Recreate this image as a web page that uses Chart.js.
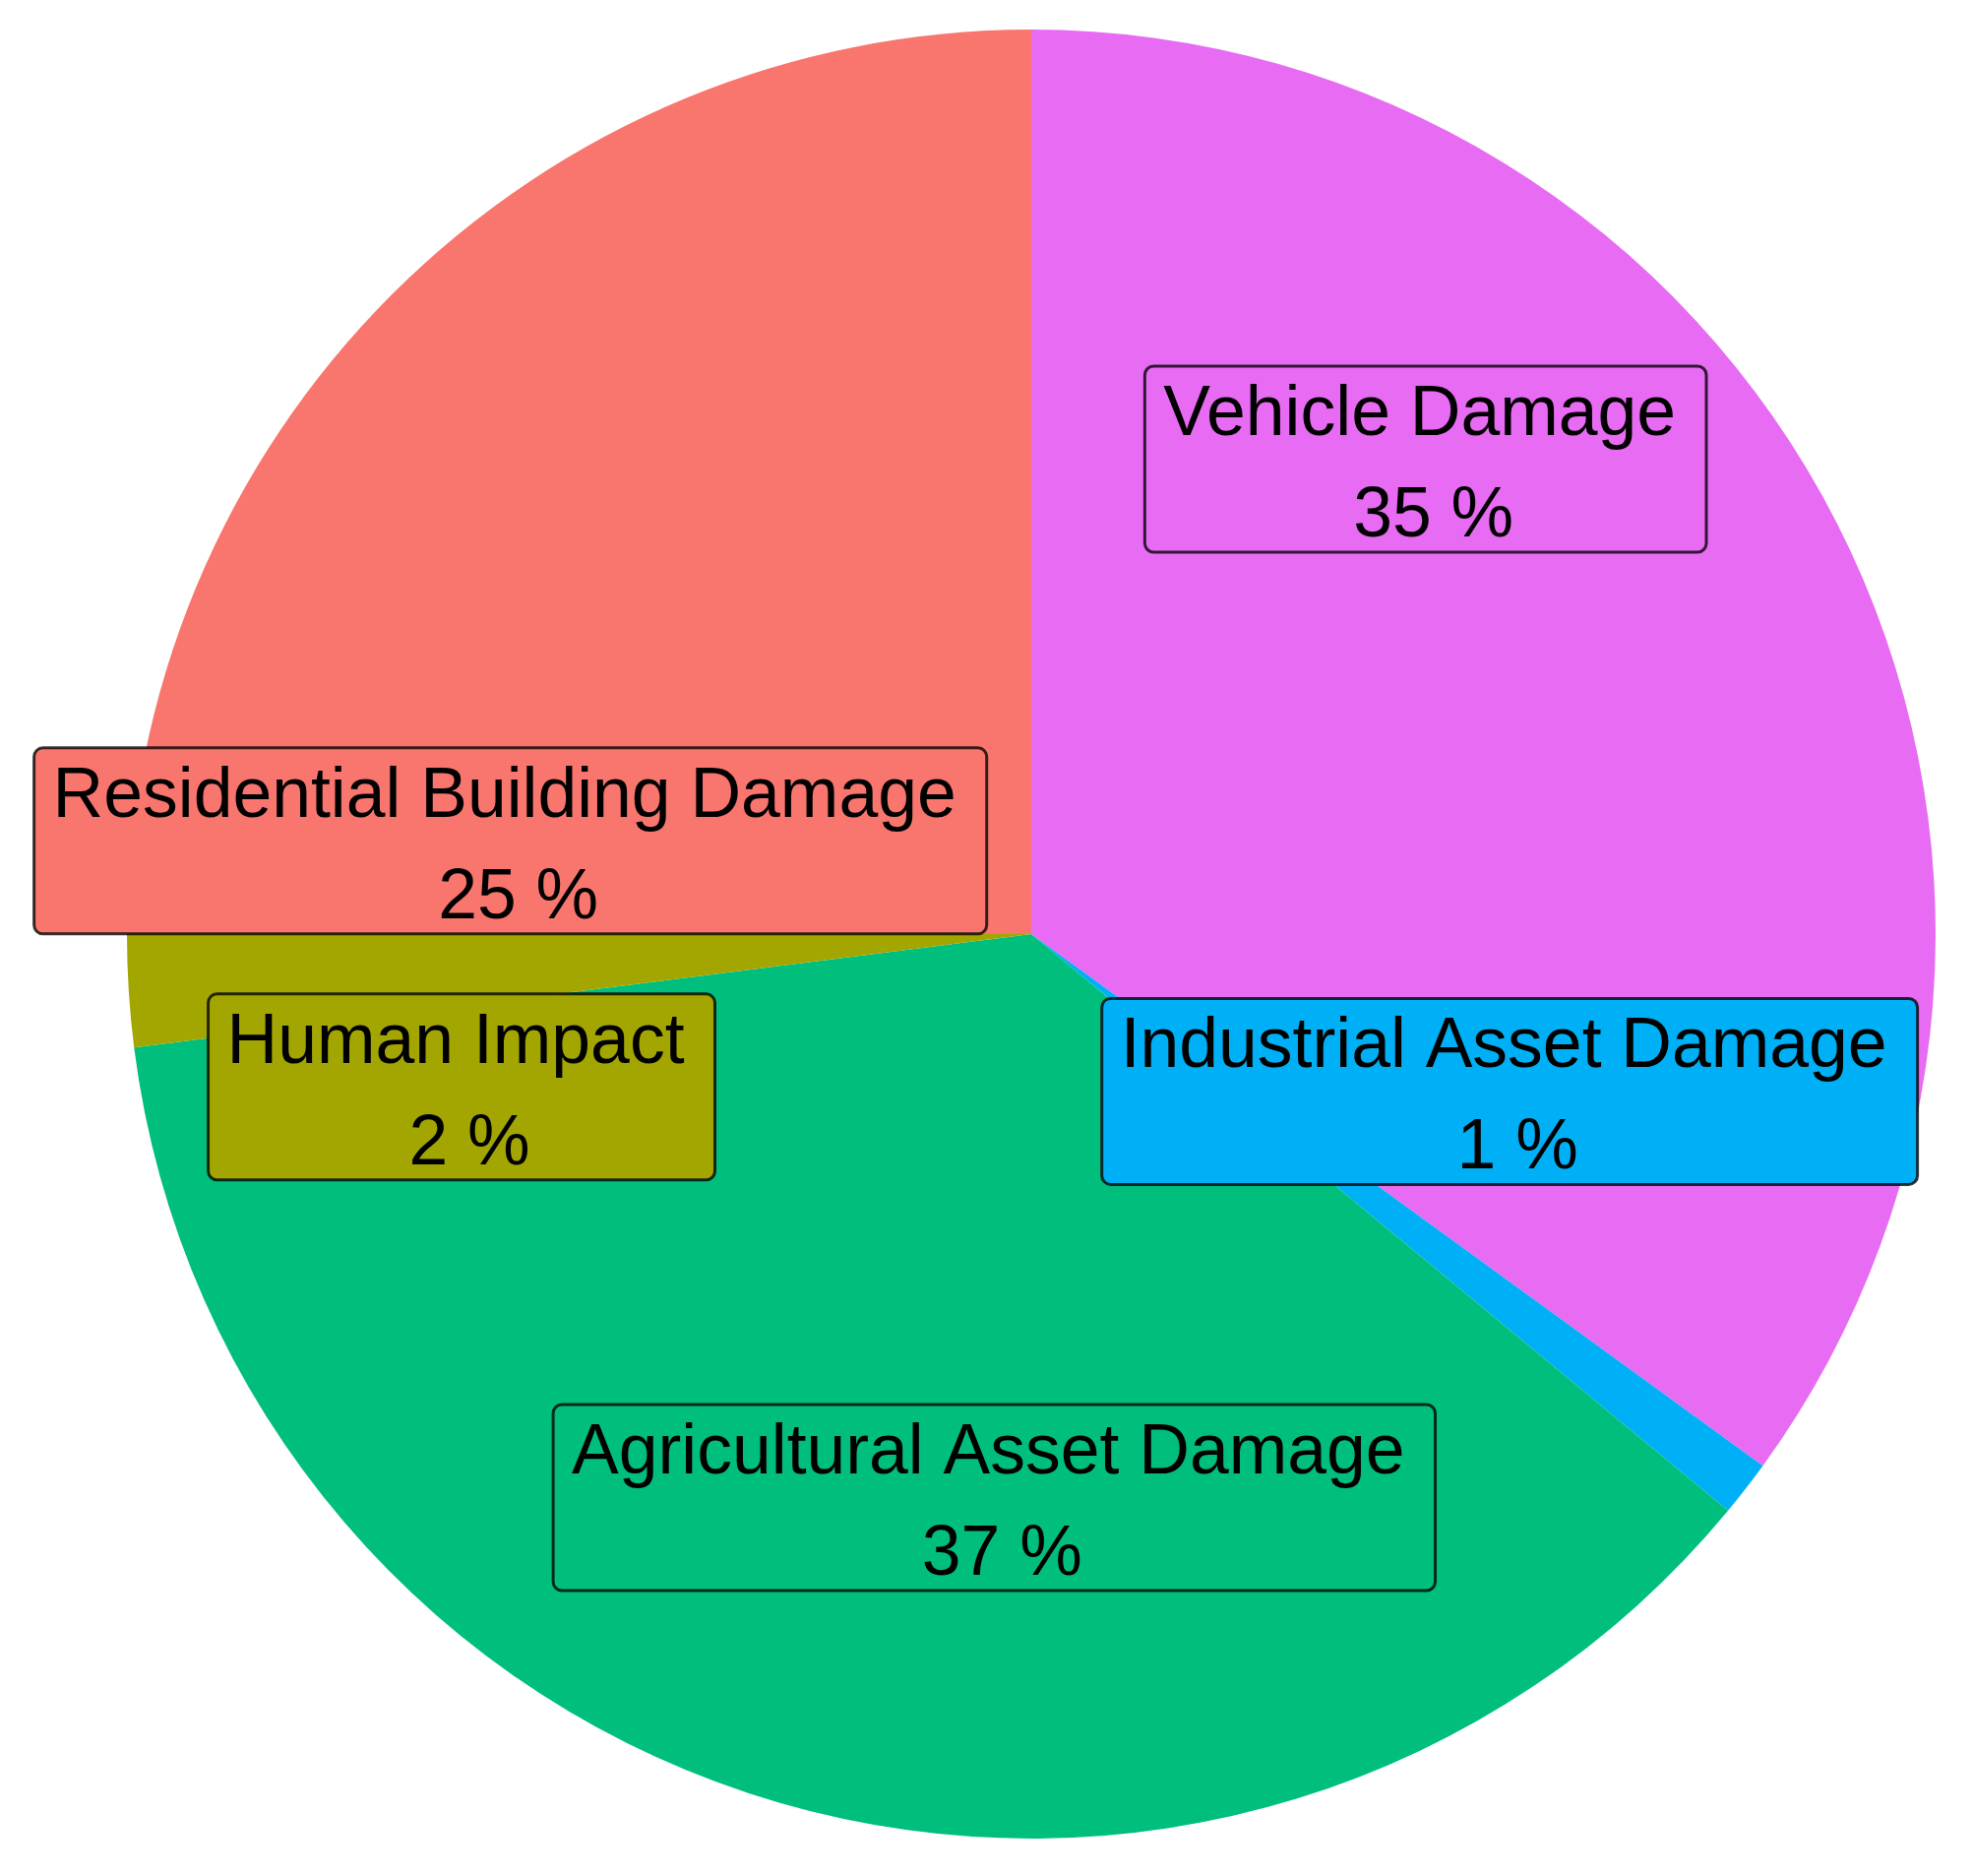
<!DOCTYPE html>
<html>
<head>
<meta charset="utf-8">
<script src="https://cdn.jsdelivr.net/npm/chart.js@4/dist/chart.umd.min.js"></script>
<style>
  html, body { margin: 0; padding: 0; background: #fff; }
  canvas { display: block; }
</style>
</head>
<body>
<canvas id="damageChart" width="2005" height="1906"></canvas>
<script>
// slices go clockwise from 12 o'clock
const categories = [
    "Vehicle Damage",
    "Industrial Asset Damage",
    "Agricultural Asset Damage",
    "Human Impact",
    "Residential Building Damage",
]
const shares = [35, 1, 37, 2, 25]
const sliceColors = ["#E76BF3", "#00B0F6", "#00BF7D", "#A3A500", "#F8766D"]

// where each label box sits, as offsets from the pie centre in units of radius
const labelSpots = [
    [0.436, -0.525],
    [0.529, 0.174],
    [-0.041, 0.623],
    [-0.630, 0.169],
    [-0.576, -0.103],
]

const labelFont = '71.5px "Liberation Sans", Arial, sans-serif'

const boxLabels = {
    id: "boxLabels",
    afterDatasetsDraw(chart) {
        const ctx = chart.ctx
        const arcs = chart.getDatasetMeta(0).data
        const cx = arcs[0].x
        const cy = arcs[0].y
        const r = arcs[0].outerRadius

        ctx.save()
        ctx.font = labelFont
        ctx.textBaseline = "alphabetic"
        categories.forEach((name, i) => {
            const mx = cx + labelSpots[i][0] * r
            const my = cy + labelSpots[i][1] * r
            const tw = ctx.measureText(name).width
            const w = tw + 50
            const h = 189
            const left = mx - w / 2
            const top = my - h / 2

            ctx.beginPath()
            ctx.roundRect(left, top, w, h, 9)
            ctx.fillStyle = sliceColors[i]
            ctx.fill()
            ctx.lineWidth = 3
            ctx.strokeStyle = "rgba(0, 0, 0, 0.78)"
            ctx.stroke()

            ctx.fillStyle = "#000"
            ctx.textAlign = "left"
            ctx.fillText(name, left + 19, top + 70)
            ctx.textAlign = "center"
            ctx.fillText(shares[i] + " %", mx + 8, top + 173)
        })
        ctx.restore()
    },
}

new Chart(document.getElementById("damageChart").getContext("2d"), {
    type: "pie",
    data: {
        labels: categories,
        datasets: [
            {
                data: shares,
                backgroundColor: sliceColors,
                borderWidth: 0,
                hoverOffset: 0,
            },
        ],
    },
    options: {
        responsive: false,
        animation: false,
        devicePixelRatio: 1,
        layout: {
            padding: { left: 129, top: 30, right: 38, bottom: 38 },
        },
        plugins: {
            legend: { display: false },
            tooltip: { enabled: false },
        },
    },
    plugins: [boxLabels],
})
</script>
</body>
</html>
